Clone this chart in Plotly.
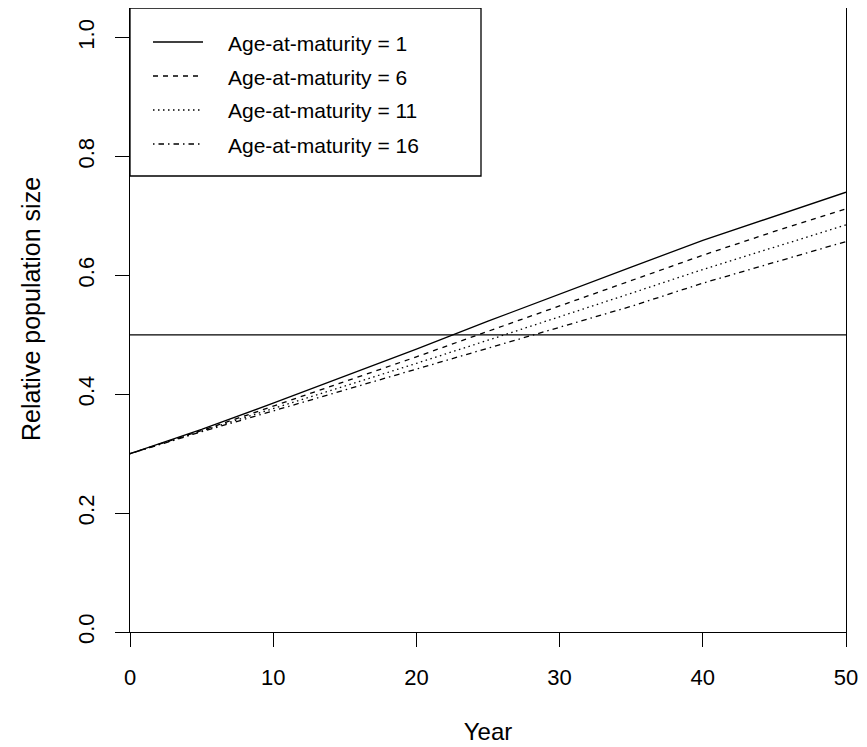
import plotly.graph_objects as go

years = [0, 5, 10, 15, 20, 25, 30, 35, 40, 45, 50]
age1 = [0.300, 0.341, 0.385, 0.430, 0.476, 0.523, 0.569, 0.614, 0.659, 0.700, 0.740]
age6 = [0.300, 0.339, 0.380, 0.421, 0.463, 0.506, 0.549, 0.592, 0.634, 0.674, 0.712]
age11 = [0.300, 0.338, 0.375, 0.413, 0.452, 0.491, 0.530, 0.570, 0.610, 0.648, 0.685]
age16 = [0.300, 0.337, 0.372, 0.407, 0.443, 0.478, 0.512, 0.548, 0.587, 0.622, 0.657]
labels = ["Age-at-maturity = 1", "Age-at-maturity = 6",
          "Age-at-maturity = 11", "Age-at-maturity = 16"]
x_ticks = [0, 10, 20, 30, 40, 50]
y_ticks = [0.0, 0.2, 0.4, 0.6, 0.8, 1.0]
ref_level = 0.5
x_title = "Year"
y_title = "Relative population size"

FONT = "Liberation Sans, Arial, sans-serif"
dashes = ["solid", "5px,5px", "1.5px,3.5px", "1.5px,4px,5.5px,4px"]
series = [age1, age6, age11, age16]

# page body has an 8px margin: compensate so the plot sits where the reference has it
OFF = 8
FIG_W = 867 - OFF
FIG_H = 747 - OFF
PL = 130 - OFF        # plot left edge in figure coords
PT = 8 - OFF          # plot top edge
PW = 716.0
PH = 624.0
PB = FIG_H - PT - PH
PR = FIG_W - PL - PW

fig = go.Figure()
for ys, lab, d in zip(series, labels, dashes):
    fig.add_trace(go.Scatter(x=years, y=ys, mode="lines", name=lab,
                             line=dict(color="black", width=1.3, dash=d),
                             showlegend=False))

# horizontal reference line
fig.add_shape(type="line", xref="x", yref="y", x0=0, x1=50, y0=ref_level, y1=ref_level,
              line=dict(color="black", width=1.3))

# manual legend (R style box); positions given in page pixels
def px_x(p):
    return (p - 130) / PW
def px_y(p):
    return (632 - p) / PH

fig.add_shape(type="rect", xref="paper", yref="paper",
              x0=px_x(130), x1=px_x(481), y0=px_y(176), y1=px_y(8),
              line=dict(color="black", width=1.3), fillcolor="white", layer="above")
rows = [42, 76, 110, 144]
for lab, d, r in zip(labels, dashes, rows):
    fig.add_shape(type="line", xref="paper", yref="paper",
                  x0=px_x(153), x1=px_x(203), y0=px_y(r), y1=px_y(r),
                  line=dict(color="black", width=1.3, dash=d), layer="above")
    fig.add_annotation(xref="paper", yref="paper", x=px_x(226), y=px_y(r + 1),
                       text=lab, showarrow=False, xanchor="left", yanchor="middle",
                       font=dict(family=FONT, size=21, color="black"))

# y-axis title
fig.add_annotation(xref="paper", yref="paper", x=px_x(31), y=px_y(309),
                   text=y_title, textangle=-90, showarrow=False,
                   xanchor="center", yanchor="middle",
                   font=dict(family=FONT, size=25, color="black"))

axis_common = dict(showgrid=False, zeroline=False, showline=True, mirror=True,
                   linecolor="black", linewidth=1.3, ticks="outside", ticklen=14,
                   tickwidth=1.3, tickcolor="black",
                   tickfont=dict(family=FONT, size=22, color="black"))

fig.update_xaxes(range=[0, 50], tickvals=x_ticks, ticktext=[str(v) for v in x_ticks],
                 ticklabelstandoff=11,
                 title=dict(text=x_title, font=dict(family=FONT, size=24, color="black"),
                            standoff=34),
                 **axis_common)
fig.update_yaxes(range=[0, 1.05], tickvals=y_ticks, ticktext=[f"{v:.1f}" for v in y_ticks],
                 tickangle=-90, ticklabelstandoff=12,
                 **axis_common)

fig.update_layout(width=FIG_W, height=FIG_H, plot_bgcolor="white", paper_bgcolor="white",
                  margin=dict(l=PL, r=PR, t=PT, b=PB, autoexpand=False),
                  font=dict(family=FONT, size=20, color="black"))

fig.write_html("out.html")
